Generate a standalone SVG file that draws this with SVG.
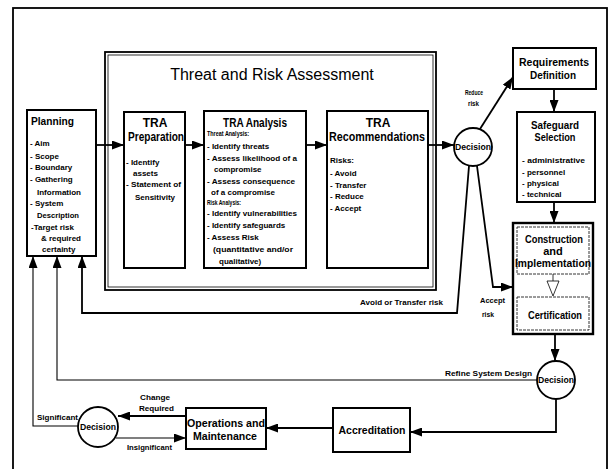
<svg xmlns="http://www.w3.org/2000/svg" width="610" height="469" viewBox="0 0 610 469">
<defs>
<marker id="ah" viewBox="0 0 12 9" refX="12" refY="4.5" markerWidth="12" markerHeight="9" markerUnits="userSpaceOnUse" orient="auto"><path d="M0,0 L12,4.5 L0,9 z" fill="#000"/></marker>
</defs>
<style>
text{font-family:"Liberation Sans",Arial,sans-serif;fill:#000}
.box{fill:#fff;stroke:#000;stroke-width:2}
.thin{fill:none;stroke:#000;stroke-width:0.8}
.ln{fill:none;stroke:#000;stroke-width:1.8}
.lt{fill:none;stroke:#000;stroke-width:1.1}
.h{font-weight:bold;font-size:12px}
.hm{font-weight:bold;font-size:11px}
.t{font-size:8px;font-weight:bold}
.s{font-size:8px;font-weight:bold}
.xs{font-size:6.5px;font-weight:bold}
.d{font-size:9px;font-weight:bold;text-anchor:middle}
.c{text-anchor:middle}
</style>
<rect x="0" y="0" width="610" height="469" fill="#fff"/>
<rect x="13" y="8" width="594" height="470" fill="none" stroke="#000" stroke-width="1.8"/>

<g id="tra">
<rect x="105" y="52" width="331" height="238" fill="#fff" stroke="#000" stroke-width="1.8"/>
<rect x="108" y="55" width="325" height="232" class="thin" stroke="#555"/>
<text x="272" y="80" class="c" font-size="16px">Threat and Risk Assessment</text>
</g>

<g id="planning">
<rect x="27" y="110" width="69" height="146" class="box"/>
<text x="31" y="125" class="hm" textLength="43" lengthAdjust="spacingAndGlyphs">Planning</text>
<text class="t"><tspan x="30" y="146">- Aim</tspan><tspan x="30" y="159">- Scope</tspan><tspan x="30" y="170">- Boundary</tspan><tspan x="30" y="182">- Gathering</tspan><tspan x="37" y="195">Information</tspan><tspan x="30" y="206">- System</tspan><tspan x="37" y="218" textLength="42" lengthAdjust="spacingAndGlyphs">Description</tspan><tspan x="31" y="230">-Target risk</tspan><tspan x="41" y="241">&amp; required</tspan><tspan x="42" y="252">certainty</tspan></text>
</g>

<g id="prep">
<rect x="124" y="112" width="61" height="156" class="box"/>
<text class="h c"><tspan x="155" y="127">TRA</tspan><tspan x="156" y="141" textLength="56" lengthAdjust="spacingAndGlyphs">Preparation</tspan></text>
<text class="t"><tspan x="126" y="165">- Identify</tspan><tspan x="133" y="176">assets</tspan><tspan x="126" y="187" textLength="55" lengthAdjust="spacingAndGlyphs">- Statement of</tspan><tspan x="135" y="200">Sensitivity</tspan></text>
</g>

<g id="analysis">
<rect x="204" y="111" width="102" height="157" class="box"/>
<text x="255" y="127" class="h c" textLength="64" lengthAdjust="spacingAndGlyphs">TRA Analysis</text>
<text x="207" y="136" class="xs" textLength="42" lengthAdjust="spacingAndGlyphs">Threat Analysis:</text>
<text class="t"><tspan x="207" y="149">- Identify threats</tspan><tspan x="207" y="161" textLength="90" lengthAdjust="spacingAndGlyphs">- Assess likelihood of a</tspan><tspan x="214" y="172">compromise</tspan><tspan x="207" y="184" textLength="88" lengthAdjust="spacingAndGlyphs">- Assess consequence</tspan><tspan x="211" y="195">of a compromise</tspan></text>
<text x="207" y="205" class="xs" textLength="34" lengthAdjust="spacingAndGlyphs">Risk Analysis:</text>
<text class="t"><tspan x="207" y="216" textLength="90" lengthAdjust="spacingAndGlyphs">- Identify vulnerabilities</tspan><tspan x="207" y="228">- Identify safeguards</tspan><tspan x="207" y="240">- Assess Risk</tspan><tspan x="213" y="252" textLength="80" lengthAdjust="spacingAndGlyphs">(quantitative and/or</tspan><tspan x="219" y="264">qualitative)</tspan></text>
</g>

<g id="recommendations">
<rect x="327" y="111" width="101" height="157" class="box"/>
<text class="h c"><tspan x="378" y="127">TRA</tspan><tspan x="377" y="141" textLength="96" lengthAdjust="spacingAndGlyphs">Recommendations</tspan></text>
<text class="t"><tspan x="330" y="163">Risks:</tspan><tspan x="330" y="176">- Avoid</tspan><tspan x="330" y="188">- Transfer</tspan><tspan x="330" y="199">- Reduce</tspan><tspan x="330" y="211">- Accept</tspan></text>
</g>

<g id="decision1">
<circle cx="473" cy="147" r="19" fill="#fff" stroke="#000" stroke-width="1.8"/>
<text x="473" y="150" class="d" textLength="36" lengthAdjust="spacingAndGlyphs">Decision</text>
</g>

<g id="requirements">
<rect x="513" y="48" width="83" height="41" class="box"/>
<text class="hm c"><tspan x="554" y="66" textLength="70" lengthAdjust="spacingAndGlyphs">Requirements</tspan><tspan x="553" y="79" textLength="46" lengthAdjust="spacingAndGlyphs">Definition</tspan></text>
</g>

<g id="safeguard">
<rect x="517" y="112" width="78" height="90" class="box"/>
<text class="hm c"><tspan x="555" y="129" textLength="48" lengthAdjust="spacingAndGlyphs">Safeguard</tspan><tspan x="555" y="141" textLength="41" lengthAdjust="spacingAndGlyphs">Selection</tspan></text>
<text class="t"><tspan x="522" y="163" textLength="63" lengthAdjust="spacingAndGlyphs">- administrative</tspan><tspan x="522" y="175">- personnel</tspan><tspan x="522" y="186">- physical</tspan><tspan x="522" y="197">- technical</tspan></text>
</g>

<g id="construction">
<rect x="513" y="223" width="80" height="111" fill="#fff" stroke="#000" stroke-width="2.4"/>
<rect x="517" y="227" width="72" height="47" class="thin" stroke-dasharray="3 1"/>
<text class="hm c"><tspan x="554" y="243" textLength="58" lengthAdjust="spacingAndGlyphs">Construction</tspan><tspan x="553" y="255">and</tspan><tspan x="553" y="267" textLength="76" lengthAdjust="spacingAndGlyphs">Implementation</tspan></text>
<path d="M553,274 V281" class="thin"/>
<path d="M547,281 L559,281 L553,296 z" fill="#fff" stroke="#000" stroke-width="0.8"/>
<rect x="517" y="297" width="72" height="33" class="thin" stroke-dasharray="3 1"/>
<text x="555" y="319" class="hm c" textLength="54" lengthAdjust="spacingAndGlyphs">Certification</text>
</g>

<g id="decision2">
<circle cx="556" cy="380" r="19" fill="#fff" stroke="#000" stroke-width="1.8"/>
<text x="556" y="383" class="d" textLength="36" lengthAdjust="spacingAndGlyphs">Decision</text>
</g>

<g id="accreditation">
<rect x="333" y="408" width="77" height="44" class="box"/>
<text x="372" y="434" class="hm c" textLength="67" lengthAdjust="spacingAndGlyphs">Accreditation</text>
</g>

<g id="operations">
<rect x="186" y="408" width="80" height="41" class="box"/>
<text class="hm c"><tspan x="226" y="427" textLength="78" lengthAdjust="spacingAndGlyphs">Operations and</tspan><tspan x="225" y="440" textLength="64" lengthAdjust="spacingAndGlyphs">Maintenance</tspan></text>
</g>

<g id="decision3">
<circle cx="98" cy="427" r="20" fill="#fff" stroke="#000" stroke-width="1.8"/>
<text x="98" y="430" class="d" textLength="36" lengthAdjust="spacingAndGlyphs">Decision</text>
</g>

<g id="connectors">
<path d="M96,145 H124" class="ln" marker-end="url(#ah)"/>
<path d="M185,145 H204" class="ln" marker-end="url(#ah)"/>
<path d="M306,145 H327" class="ln" marker-end="url(#ah)"/>
<path d="M428,145 H454" class="ln" marker-end="url(#ah)"/>
<path d="M480,129 L513,77" class="ln" marker-end="url(#ah)"/>
<path d="M554,89 V112" class="ln" marker-end="url(#ah)"/>
<path d="M554,202 V223" class="ln" marker-end="url(#ah)"/>
<path d="M477,166 L493,287 H513" class="ln" marker-end="url(#ah)"/>
<path d="M469,166 L457,313 H82 V256" class="ln" marker-end="url(#ah)"/>
<path d="M555,334 V361" class="ln" marker-end="url(#ah)"/>
<path d="M537,380 H57 V256" class="lt" marker-end="url(#ah)"/>
<path d="M556,399 V432 H410" class="ln" marker-end="url(#ah)"/>
<path d="M333,428 H266" class="ln" marker-end="url(#ah)"/>
<path d="M186,416 H118" class="ln" marker-end="url(#ah)"/>
<path d="M116,438 H186" class="lt" marker-end="url(#ah)"/>
<path d="M78,426 H33 V256" class="lt" marker-end="url(#ah)"/>
<text class="s"><tspan x="465" y="95" textLength="18" lengthAdjust="spacingAndGlyphs">Reduce</tspan><tspan x="468" y="106" textLength="11" lengthAdjust="spacingAndGlyphs">risk</tspan></text>
<text x="360" y="305" class="s" textLength="83" lengthAdjust="spacingAndGlyphs">Avoid or Transfer risk</text>
<text class="s"><tspan x="480" y="303" textLength="25" lengthAdjust="spacingAndGlyphs">Accept</tspan><tspan x="482" y="317" textLength="12" lengthAdjust="spacingAndGlyphs">risk</tspan></text>
<text x="445" y="376" class="s" textLength="87" lengthAdjust="spacingAndGlyphs">Refine System Design</text>
<text x="37" y="420" class="s" textLength="41" lengthAdjust="spacingAndGlyphs">Significant</text>
<text class="s"><tspan x="140" y="400" textLength="30" lengthAdjust="spacingAndGlyphs">Change</tspan><tspan x="139" y="411" textLength="35" lengthAdjust="spacingAndGlyphs">Required</tspan></text>
<text x="127" y="450" class="s" textLength="45" lengthAdjust="spacingAndGlyphs">Insignificant</text>
</g>
</svg>
